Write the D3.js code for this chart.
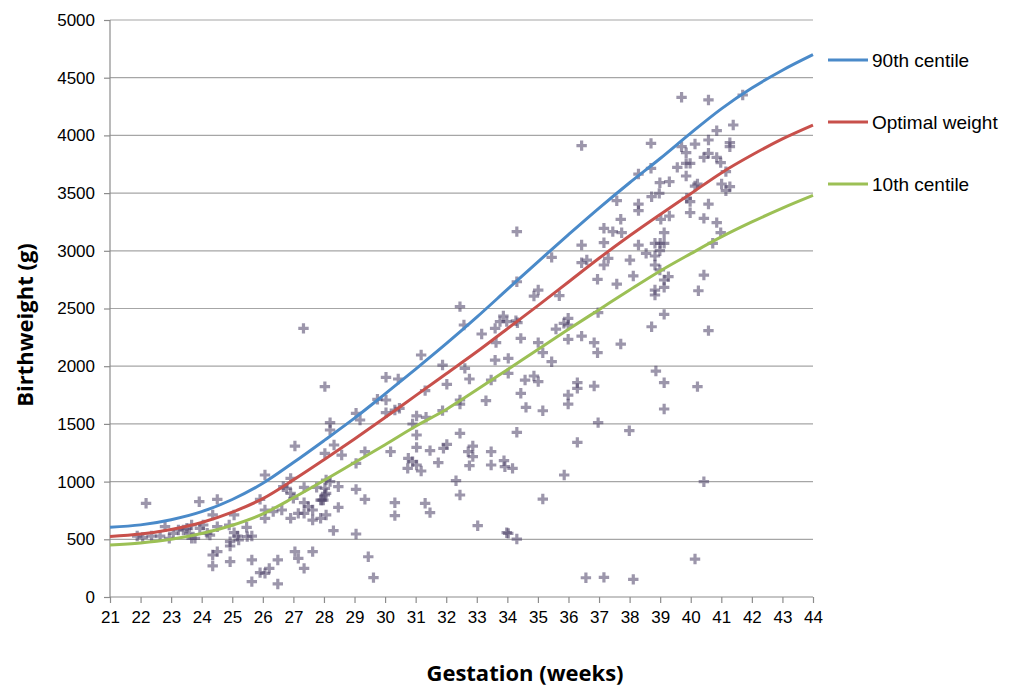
<!DOCTYPE html>
<html><head><meta charset="utf-8">
<script src="https://cdn.jsdelivr.net/npm/d3@7/dist/d3.min.js"></script>
<style>body{margin:0;background:#fff}svg{display:block}</style>
</head><body>
<svg id="c" width="1029" height="690"></svg>
<script>
const weeks = [21,22,23,24,25,26,27,28,29,30,31,32,33,34,35,36,37,38,39,40,41,42,43,44];
const centile90 = [605,625,670,740,845,985,1165,1355,1550,1760,1975,2195,2425,2665,2905,3140,3370,3590,3800,4020,4230,4410,4565,4700];
const optimal = [525,545,585,645,735,853,1015,1190,1370,1555,1745,1935,2125,2325,2525,2730,2935,3130,3315,3495,3675,3830,3970,4090];
const centile10 = [450,468,500,550,622,720,860,1010,1165,1320,1480,1625,1795,1970,2145,2320,2490,2660,2825,2975,3120,3250,3370,3480];
const seriesNames = ["90th centile","Optimal weight","10th centile"];
const yTicks = [0,500,1000,1500,2000,2500,3000,3500,4000,4500,5000];
const xTicks = d3.range(21,45);
const obsWeek = [21.89,22.07,22.36,22.64,22.80,22.94,23.07,23.24,23.40,23.51,23.60,23.67,23.67,23.78,23.94,24.05,24.18,24.27,24.36,24.51,24.51,23.92,24.36,24.51,24.36,25.06,24.90,24.93,24.93,25.06,25.17,25.21,25.47,25.49,25.64,24.93,25.64,25.64,25.91,26.07,26.21,26.49,26.49,25.91,26.07,26.07,26.34,26.62,26.07,26.67,26.78,26.91,26.91,27.00,27.05,26.91,27.16,27.05,27.16,22.18,
27.33,27.35,27.35,27.35,27.49,27.63,27.63,27.35,27.63,27.76,27.89,27.98,28.07,28.07,28.20,28.03,28.03,27.93,27.89,28.07,28.03,28.03,28.20,28.20,28.33,28.58,28.47,28.47,28.31,29.05,29.18,29.05,29.34,29.05,29.34,29.05,29.45,29.62,29.75,30.03,30.03,30.03,30.43,30.32,30.47,30.18,30.32,30.32,30.76,30.74,30.90,31.03,31.18,30.90,31.03,31.03,31.03,31.18,31.31,31.34,31.47,31.31,31.47,31.74,31.88,31.88,31.91,32.02,32.02,
32.45,32.58,32.61,32.76,32.45,32.45,32.45,32.72,32.87,32.87,32.76,32.32,32.45,33.03,33.16,33.30,33.47,33.47,33.47,33.60,33.63,33.60,33.76,33.87,33.98,34.31,34.31,34.28,34.33,34.03,34.03,33.89,33.92,34.17,33.98,34.03,34.31,34.31,34.44,34.44,34.58,34.61,34.87,35.01,34.87,35.01,35.01,35.16,35.16,35.16,35.45,35.45,35.70,35.59,35.85,35.99,35.99,35.99,35.86,36.29,36.29,35.99,35.99,36.29,36.43,36.43,36.60,36.43,36.84,36.95,36.84,36.97,36.95,36.97,36.57,36.43,
37.16,37.16,37.16,37.30,37.16,37.45,37.58,37.71,37.74,37.58,37.71,38.01,38.12,37.99,38.12,38.29,38.29,38.29,38.29,38.70,38.70,38.72,38.54,38.83,38.83,38.83,38.99,38.97,39.02,39.13,39.00,39.13,38.99,38.99,38.83,38.83,39.13,39.13,39.27,39.30,39.30,39.13,38.72,38.86,39.13,39.13,39.56,39.70,39.70,39.85,39.85,39.98,39.85,39.87,39.98,39.98,40.14,40.14,40.22,40.25,40.22,40.14,
40.58,41.70,41.39,40.85,40.58,41.28,41.28,40.43,40.58,40.85,40.98,41.15,41.01,41.28,41.15,40.58,40.43,40.85,40.98,40.72,40.43,40.58,40.43];
const obsWeight = [528,517,528,528,609,508,552,581,581,595,552,624,508,508,595,624,552,537,711,609,846,826,364,393,269,711,624,479,442,558,528,494,604,523,528,306,321,133,211,205,248,321,113,846,754,682,740,754,1057,956,942,1028,898,855,1308,682,725,393,335,812,
2328,950,725,817,783,754,667,248,393,950,840,840,1014,898,1000,942,884,840,682,711,1245,1823,1511,1447,1317,1230,956,777,575,1592,1534,1158,1259,933,846,546,349,168,1713,1904,1707,1597,1889,1620,1635,1259,817,705,1202,1115,1173,1144,1092,1499,1569,1404,1297,2097,1788,1557,1268,812,731,1164,2010,1615,1288,1323,1843,
2516,2357,1981,1889,1707,1672,1418,1259,1308,1216,1138,1008,884,618,2279,1701,1880,1259,1144,2328,2204,2053,2386,2435,2386,3166,2732,2394,2377,2068,1938,1181,1129,1115,557,551,502,1427,2241,1765,1880,1643,2608,2660,1915,1866,2204,2117,1614,849,2943,2039,2611,2322,2371,2415,2357,2233,1057,1857,1808,1750,1672,1340,3050,2897,2920,2261,2204,2117,1828,1511,2753,2464,167,3911,
3195,3070,2877,2935,170,3166,3434,3273,3157,2712,2192,2920,2782,1441,153,3665,3405,3348,3050,3931,3715,3469,2978,3065,2955,2877,3590,3498,3273,3157,3065,3065,3001,2834,2660,2617,2747,2683,2776,3599,3301,2449,2342,1958,1857,1629,3723,4330,3902,3850,3758,3758,3648,3455,3426,3330,3925,3561,3579,2654,1823,329,
4307,4350,4090,4041,3960,3937,3902,3810,3845,3810,3764,3686,3579,3556,3521,3405,3281,3244,3157,3065,2790,2308,999];

const svg = d3.select("#c");
const x = d3.scaleLinear().domain([21,44]).range([110,813]);
const y = d3.scaleLinear().domain([0,5000]).range([597,20]);

// gridlines
svg.append("g").selectAll("line").data(yTicks.filter(d=>d>0)).join("line")
  .attr("x1",110).attr("x2",813).attr("y1",d=>y(d)).attr("y2",d=>y(d))
  .attr("stroke","#a6a6a6").attr("stroke-width",1.2);

// axes
const yAxis = svg.append("g").attr("transform","translate(110,0)")
  .call(d3.axisLeft(y).tickValues(yTicks).tickSize(6).tickPadding(9).tickFormat(d3.format("d")));
const xAxis = svg.append("g").attr("transform","translate(0,597)")
  .call(d3.axisBottom(x).tickValues(xTicks).tickSize(6).tickPadding(8).tickFormat(d3.format("d")));
[yAxis,xAxis].forEach(a=>{
  a.selectAll("path").attr("stroke","#8c8c8c").attr("stroke-width",1.2);
  a.selectAll("line").attr("stroke","#8c8c8c").attr("stroke-width",1.2);
  a.selectAll("text").attr("fill","#000").style("font-family","'Liberation Sans', Arial, sans-serif").style("font-size","17px");
});
xAxis.select(".domain").attr("d","M110,0H813");
yAxis.select(".domain").attr("d","M0,597V20");

// scatter
const cross = "M-1.6,-5.2H1.6V-1.6H5.2V1.6H1.6V5.2H-1.6V1.6H-5.2V-1.6H-1.6Z";
svg.append("g").selectAll("path").data(obsWeek.map((w,i)=>[w,obsWeight[i]])).join("path")
  .attr("d",cross).attr("transform",d=>`translate(${x(d[0])},${y(d[1])})`)
  .attr("fill","#4a3f66").attr("fill-opacity",0.55);

// curves
const colors = ["#4a8ac9","#c8504b","#9cc055"];
const series = [centile90, optimal, centile10];
const line = d3.line().x((d,i)=>x(weeks[i])).y(d=>y(d)).curve(d3.curveMonotoneX);
series.forEach((s,k)=>{
  svg.append("path").datum(s).attr("d",line).attr("fill","none")
    .attr("stroke",colors[k]).attr("stroke-width",3);
});

// legend
const leg = svg.append("g");
seriesNames.forEach((n,k)=>{
  const ly = 60 + k*62;
  leg.append("line").attr("x1",828).attr("x2",868).attr("y1",ly).attr("y2",ly)
    .attr("stroke",colors[k]).attr("stroke-width",3);
  leg.append("text").attr("x",872).attr("y",ly+7).text(n)
    .style("font-family","'Liberation Sans', Arial, sans-serif").style("font-size","19px").attr("fill","#000");
});

// axis titles
svg.append("text").attr("x",525).attr("y",681).attr("text-anchor","middle")
  .style("font-family","'Open Sans', sans-serif").style("font-weight","bold").style("font-size","22px")
  .text("Gestation (weeks)");
svg.append("text").attr("transform","translate(33,325) rotate(-90)").attr("text-anchor","middle")
  .style("font-family","'Open Sans', sans-serif").style("font-weight","bold").style("font-size","22px")
  .text("Birthweight (g)");
</script>
</body></html>
